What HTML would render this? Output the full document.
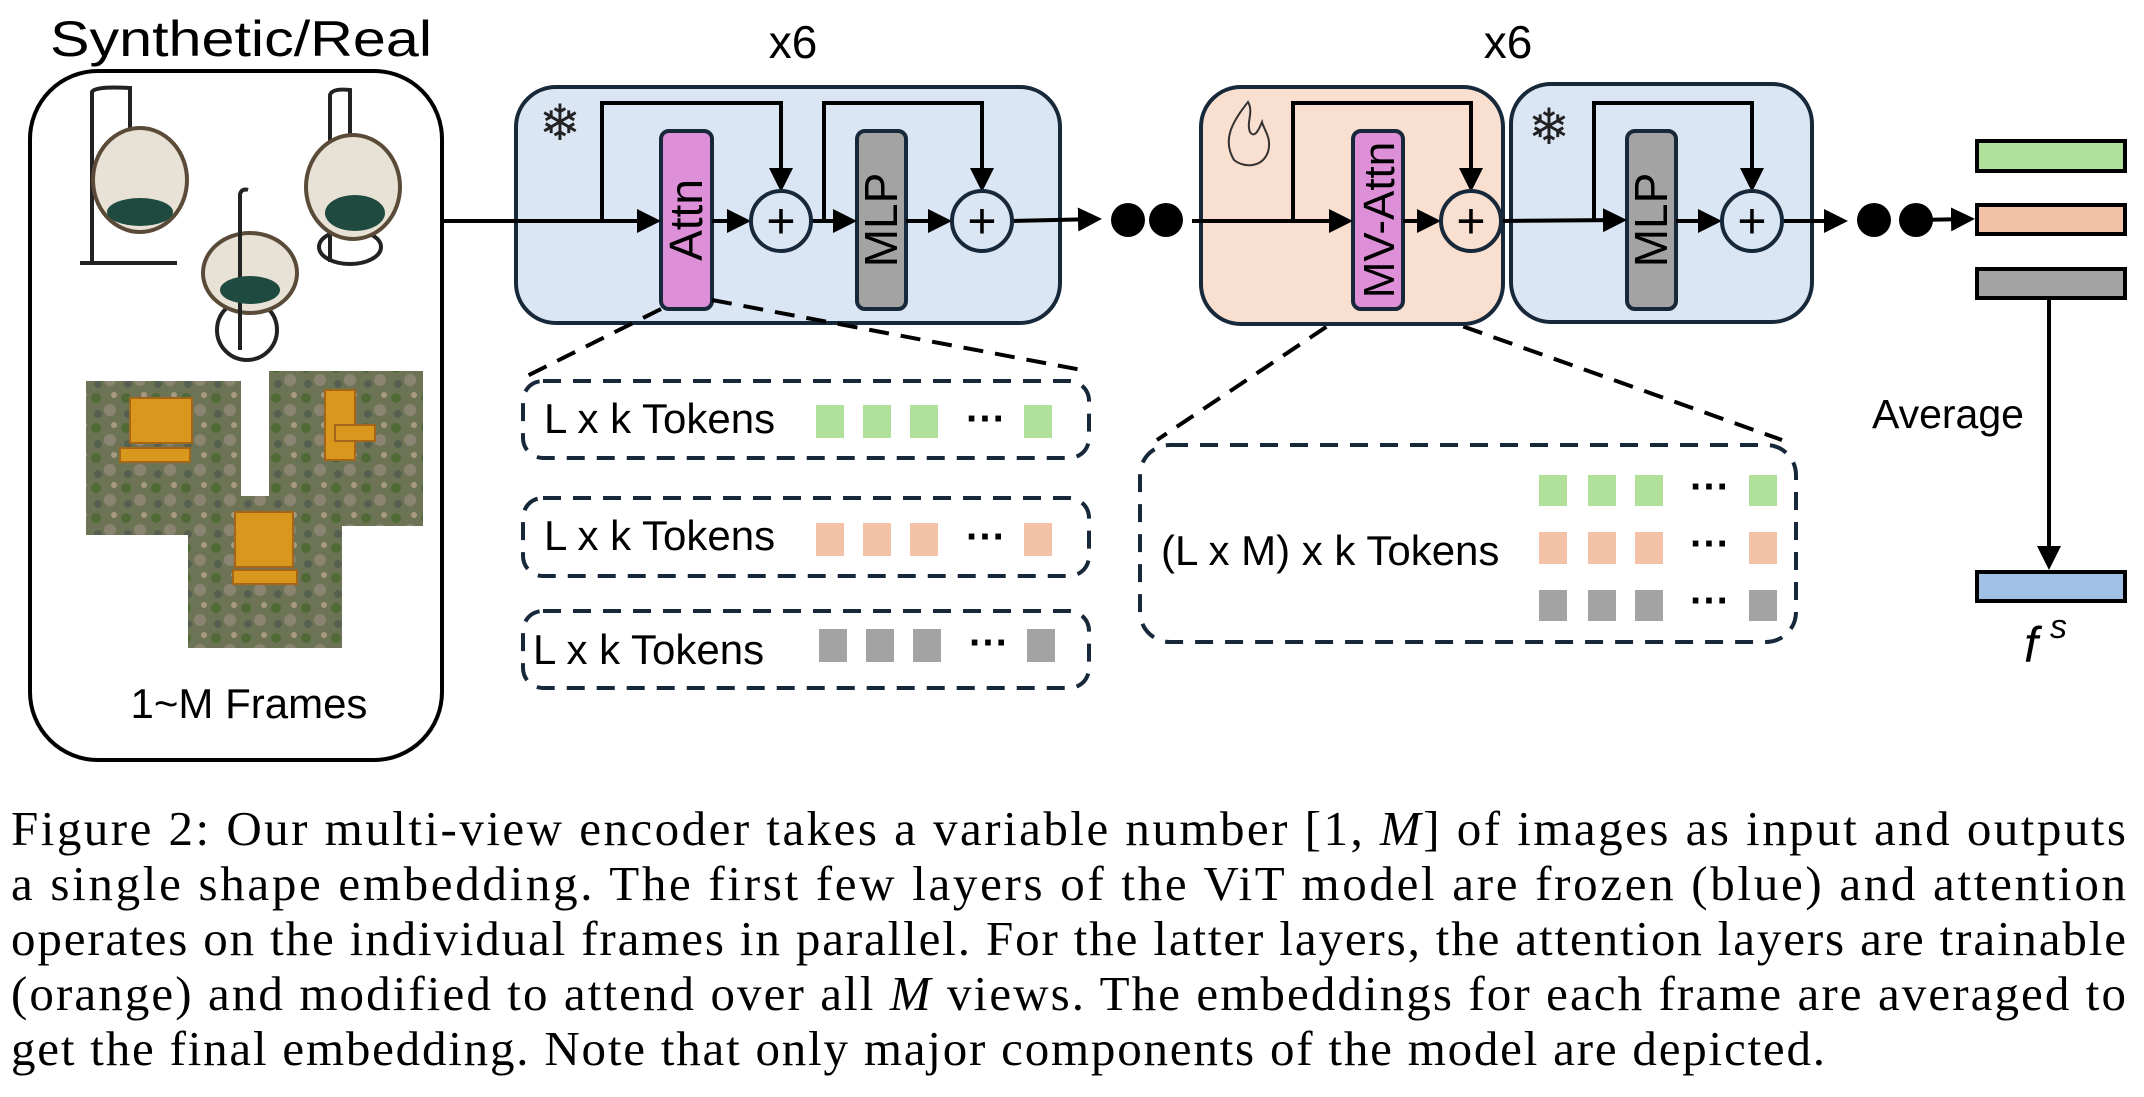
<!DOCTYPE html>
<html><head><meta charset="utf-8"><style>
html,body{margin:0;padding:0;background:#fff}
svg{display:block}
text{font-family:"Liberation Sans",sans-serif}
.cap{font-family:"Liberation Serif",serif;font-size:49px;fill:#000}
</style></head><body>
<svg width="2144" height="1097" viewBox="0 0 2144 1097" xmlns="http://www.w3.org/2000/svg">
<defs>
<marker id="ar" markerWidth="6" markerHeight="6" refX="5" refY="3" orient="auto" markerUnits="strokeWidth">
<path d="M0,0 L6,3 L0,6 z" fill="#000"/></marker>
<pattern id="grass" width="30" height="30" patternUnits="userSpaceOnUse">
<rect width="30" height="30" fill="#6d7456"/>
<circle cx="6" cy="8" r="5" fill="#4f6a35"/><circle cx="20" cy="20" r="6" fill="#8a8470"/>
<circle cx="24" cy="5" r="3" fill="#a89a80"/><circle cx="8" cy="24" r="4" fill="#556050"/>
</pattern>
</defs>

<text x="50" y="56" font-size="50" textLength="382" lengthAdjust="spacingAndGlyphs">Synthetic/Real</text>
<rect x="30" y="71" width="412" height="689" rx="68" fill="#fff" stroke="#000" stroke-width="4"/>
<g fill="none" stroke="#222" stroke-width="4">
<path d="M80,263 L177,263 M92,263 L92,92 Q95,86 130,88 L130,130"/>
<ellipse cx="140" cy="180" rx="47" ry="52" fill="#e8e2d6" stroke="#5a4a38" stroke-width="4"/>
<path d="M330,262 L330,95 Q332,88 350,90 L350,135"/>
<ellipse cx="350" cy="247" rx="31" ry="17"/>
<ellipse cx="353" cy="187" rx="47" ry="52" fill="#e8e2d6" stroke="#5a4a38" stroke-width="4"/>
<circle cx="247" cy="330" r="30"/>
<ellipse cx="250" cy="273" rx="47" ry="40" fill="#e8e2d6" stroke="#5a4a38" stroke-width="4"/>
<path d="M240,350 L240,194 Q242,188 248,190"/>
</g>
<ellipse cx="140" cy="212" rx="33" ry="14" fill="#1e4a40"/>
<ellipse cx="355" cy="213" rx="30" ry="18" fill="#1e4a40"/>
<ellipse cx="250" cy="290" rx="30" ry="14" fill="#1e4a40"/>
<g>
<rect x="86" y="381" width="155" height="154" fill="url(#grass)"/>
<rect x="269" y="371" width="154" height="155" fill="url(#grass)"/>
<rect x="188" y="496" width="154" height="152" fill="url(#grass)"/>
<g fill="#d9971e" stroke="#a5661a" stroke-width="2">
<rect x="130" y="398" width="62" height="45"/><rect x="120" y="448" width="70" height="14"/>
<rect x="325" y="390" width="30" height="70"/><rect x="335" y="425" width="40" height="16"/>
<rect x="235" y="512" width="58" height="55"/><rect x="233" y="570" width="64" height="14"/>
</g>
</g>
<text x="249" y="718" font-size="42" text-anchor="middle">1~M Frames</text>

<text x="793" y="58" font-size="46" text-anchor="middle">x6</text>
<rect x="516" y="87" width="544" height="236" rx="40" fill="#dae6f4" stroke="#17283a" stroke-width="4"/>
<text x="560" y="140" font-size="50" text-anchor="middle" fill="#222">❄</text>
<rect x="661" y="131" width="51" height="178" rx="8" fill="#dd90d7" stroke="#17283a" stroke-width="4"/>
<text transform="translate(702,220) rotate(-90)" font-size="46" text-anchor="middle">Attn</text>
<rect x="857" y="131" width="49" height="178" rx="8" fill="#a3a3a3" stroke="#17283a" stroke-width="4"/>
<text transform="translate(897,220) rotate(-90)" font-size="46" text-anchor="middle">MLP</text>
<g stroke="#000" stroke-width="4" fill="none">
<line x1="442" y1="221" x2="657" y2="221" marker-end="url(#ar)"/>
<line x1="712" y1="221" x2="747" y2="221" marker-end="url(#ar)"/>
<line x1="811" y1="221" x2="853" y2="221" marker-end="url(#ar)"/>
<line x1="906" y1="221" x2="948" y2="221" marker-end="url(#ar)"/>
<line x1="1012" y1="221" x2="1098" y2="219" marker-end="url(#ar)"/>
<polyline points="602,221 602,103 781,103 781,188" marker-end="url(#ar)"/>
<polyline points="824,221 824,103 982,103 982,188" marker-end="url(#ar)"/>
</g>
<g stroke="#17283a" stroke-width="4" fill="#dae6f4">
<circle cx="781" cy="221" r="30"/><circle cx="982" cy="221" r="30"/>
</g>
<text x="781" y="238" font-size="50" text-anchor="middle">+</text>
<text x="982" y="238" font-size="50" text-anchor="middle">+</text>
<circle cx="1128" cy="220" r="17"/><circle cx="1166" cy="220" r="17"/>

<g stroke="#000" stroke-width="4" stroke-dasharray="20,12" fill="none">
<line x1="661" y1="309" x2="523" y2="378"/>
<line x1="712" y1="300" x2="1087" y2="371"/>
<line x1="1353" y1="309" x2="1157" y2="440"/>
<line x1="1403" y1="305" x2="1782" y2="440"/>
</g>
<g stroke="#17283a" stroke-width="4" stroke-dasharray="18,12" fill="none">
<rect x="523" y="381" width="566" height="77" rx="20"/>
<rect x="523" y="498" width="566" height="78" rx="20"/>
<rect x="523" y="611" width="566" height="77" rx="20"/>
<rect x="1140" y="445" width="656" height="197" rx="30"/>
</g>
<text x="544" y="433" font-size="42">L x k Tokens</text>
<text x="544" y="550" font-size="42">L x k Tokens</text>
<text x="533" y="664" font-size="42">L x k Tokens</text>
<g fill="#b0e09a"><rect x="816" y="405" width="28" height="33"/><rect x="863" y="405" width="28" height="33"/><rect x="910" y="405" width="28" height="33"/><rect x="1024" y="405" width="28" height="33"/></g>
<g fill="#f2c1a6"><rect x="816" y="523" width="28" height="33"/><rect x="863" y="523" width="28" height="33"/><rect x="910" y="523" width="28" height="33"/><rect x="1024" y="523" width="28" height="33"/></g>
<g fill="#a3a3a3"><rect x="819" y="629" width="28" height="33"/><rect x="866" y="629" width="28" height="33"/><rect x="913" y="629" width="28" height="33"/><rect x="1027" y="629" width="28" height="33"/></g>
<text x="986" y="432" font-size="40" font-weight="bold" text-anchor="middle">···</text>
<text x="986" y="550" font-size="40" font-weight="bold" text-anchor="middle">···</text>
<text x="989" y="656" font-size="40" font-weight="bold" text-anchor="middle">···</text>

<text x="1161" y="565" font-size="42">(L x M) x k Tokens</text>
<g fill="#b0e09a"><rect x="1539" y="475" width="28" height="31"/><rect x="1588" y="475" width="28" height="31"/><rect x="1635" y="475" width="28" height="31"/><rect x="1749" y="475" width="28" height="31"/></g>
<g fill="#f2c1a6"><rect x="1539" y="532" width="28" height="32"/><rect x="1588" y="532" width="28" height="32"/><rect x="1635" y="532" width="28" height="32"/><rect x="1749" y="532" width="28" height="32"/></g>
<g fill="#a3a3a3"><rect x="1539" y="590" width="28" height="31"/><rect x="1588" y="590" width="28" height="31"/><rect x="1635" y="590" width="28" height="31"/><rect x="1749" y="590" width="28" height="31"/></g>
<text x="1710" y="500" font-size="40" font-weight="bold" text-anchor="middle">···</text>
<text x="1710" y="557" font-size="40" font-weight="bold" text-anchor="middle">···</text>
<text x="1710" y="614" font-size="40" font-weight="bold" text-anchor="middle">···</text>

<text x="1508" y="58" font-size="46" text-anchor="middle">x6</text>
<rect x="1201" y="87" width="302" height="237" rx="40" fill="#f9dfd0" stroke="#17283a" stroke-width="4"/>
<path d="M1248,102 C1232,122 1222,140 1234,160 C1244,168 1262,168 1268,152 C1272,138 1264,130 1262,122 C1258,132 1254,138 1250,132 C1246,122 1254,112 1248,102 z" fill="none" stroke="#333" stroke-width="2"/>
<rect x="1511" y="84" width="301" height="238" rx="40" fill="#dae6f4" stroke="#17283a" stroke-width="4"/>
<text x="1549" y="144" font-size="50" text-anchor="middle" fill="#222">❄</text>
<rect x="1353" y="131" width="50" height="178" rx="8" fill="#dd90d7" stroke="#17283a" stroke-width="4"/>
<text transform="translate(1394,220) rotate(-90)" font-size="44" text-anchor="middle">MV-Attn</text>
<rect x="1627" y="131" width="49" height="178" rx="8" fill="#a3a3a3" stroke="#17283a" stroke-width="4"/>
<text transform="translate(1667,220) rotate(-90)" font-size="46" text-anchor="middle">MLP</text>
<g stroke="#000" stroke-width="4" fill="none">
<line x1="1192" y1="221" x2="1349" y2="221" marker-end="url(#ar)"/>
<line x1="1403" y1="221" x2="1437" y2="221" marker-end="url(#ar)"/>
<line x1="1501" y1="221" x2="1623" y2="220" marker-end="url(#ar)"/>
<line x1="1676" y1="221" x2="1718" y2="221" marker-end="url(#ar)"/>
<line x1="1782" y1="221" x2="1844" y2="221" marker-end="url(#ar)"/>
<line x1="1916" y1="220" x2="1971" y2="219" marker-end="url(#ar)"/>
<polyline points="1293,221 1293,103 1471,103 1471,188" marker-end="url(#ar)"/>
<polyline points="1594,221 1594,103 1752,103 1752,188" marker-end="url(#ar)"/>
<line x1="2049" y1="298" x2="2049" y2="566" marker-end="url(#ar)"/>
</g>
<circle cx="1471" cy="221" r="30" fill="#f9dfd0" stroke="#17283a" stroke-width="4"/>
<circle cx="1752" cy="221" r="30" fill="#dae6f4" stroke="#17283a" stroke-width="4"/>
<text x="1471" y="238" font-size="50" text-anchor="middle">+</text>
<text x="1752" y="238" font-size="50" text-anchor="middle">+</text>
<circle cx="1874" cy="220" r="17"/><circle cx="1916" cy="220" r="17"/>

<g stroke="#000" stroke-width="4">
<rect x="1977" y="141" width="148" height="30" fill="#b0e09a"/>
<rect x="1977" y="205" width="148" height="29" fill="#f2c1a6"/>
<rect x="1977" y="269" width="148" height="29" fill="#a3a3a3"/>
<rect x="1977" y="572" width="148" height="29" fill="#a0c0e6"/>
</g>
<text x="1872" y="428" font-size="41">Average</text>
<text x="2024" y="662" font-size="50" font-family="Liberation Serif" font-style="italic">f</text>
<text x="2050" y="638" font-size="34" font-family="Liberation Serif" font-style="italic">s</text>

<text class="cap" x="11" y="845" textLength="2115" lengthAdjust="spacing">Figure 2: Our multi-view encoder takes a variable number [1, <tspan font-style="italic">M</tspan>] of images as input and outputs</text>
<text class="cap" x="11" y="900" textLength="2115" lengthAdjust="spacing">a single shape embedding. The first few layers of the ViT model are frozen (blue) and attention</text>
<text class="cap" x="11" y="955" textLength="2115" lengthAdjust="spacing">operates on the individual frames in parallel. For the latter layers, the attention layers are trainable</text>
<text class="cap" x="11" y="1010" textLength="2115" lengthAdjust="spacing">(orange) and modified to attend over all <tspan font-style="italic">M</tspan> views. The embeddings for each frame are averaged to</text>
<text class="cap" x="11" y="1065" textLength="1814" lengthAdjust="spacing">get the final embedding. Note that only major components of the model are depicted.</text>
</svg>
</body></html>
